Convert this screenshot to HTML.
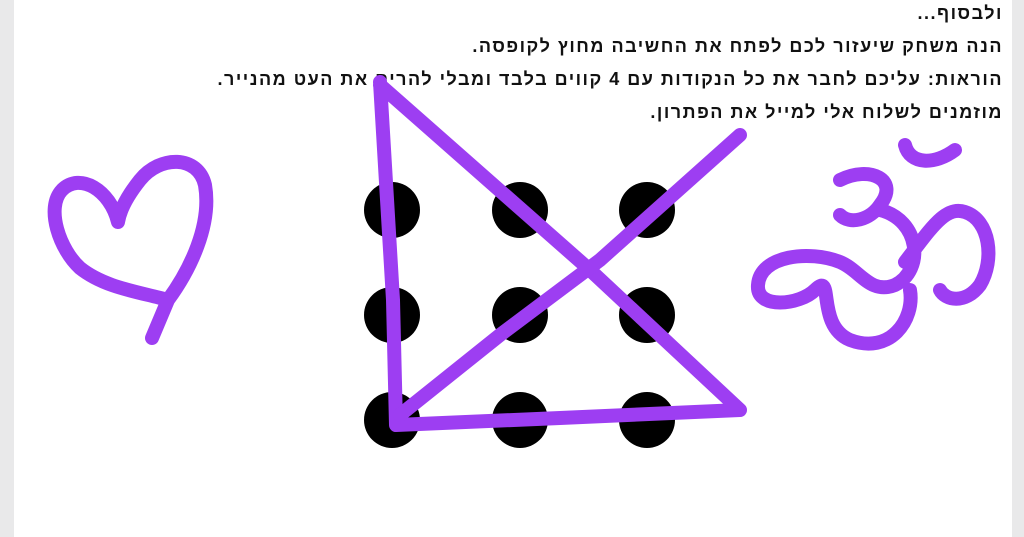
<!DOCTYPE html>
<html><head><meta charset="utf-8"><style>
html,body{margin:0;padding:0;width:1024px;height:537px;overflow:hidden;background:#fff}
.side{position:absolute;top:0;height:537px;background:#e9e9ea}
#doc{position:absolute;left:14px;top:0;width:998px;height:537px;background:#fff}
.line{position:absolute;right:21px;font-family:"Liberation Sans","Noto Sans CJK SC",sans-serif;font-weight:bold;font-size:18px;letter-spacing:1.5px;color:#111;direction:rtl;white-space:nowrap}
svg{position:absolute;left:0;top:0}
</style></head><body>
<div class="side" style="left:0;width:14px"></div>
<div class="side" style="left:1012px;width:12px"></div>
<div id="doc"></div>
<div class="line" style="top:3px">ולבסוף...</div>
<div class="line" style="top:36px">הנה משחק שיעזור לכם לפתח את החשיבה מחוץ לקופסה.</div>
<div class="line" style="top:69px">הוראות: עליכם לחבר את כל הנקודות עם 4 קווים בלבד ומבלי להרים את העט מהנייר.</div>
<div class="line" style="top:102px">מוזמנים לשלוח אלי למייל את הפתרון.</div>
<svg width="1024" height="537">
<g fill="#000">
<circle cx="392" cy="210" r="28"/><circle cx="520" cy="210" r="28"/><circle cx="647" cy="210" r="28"/>
<circle cx="392" cy="315" r="28"/><circle cx="520" cy="315" r="28"/><circle cx="647" cy="315" r="28"/>
<circle cx="392" cy="420" r="28"/><circle cx="520" cy="420" r="28"/><circle cx="647" cy="420" r="28"/>
</g>
<g fill="none" stroke="#9d3ef2" stroke-width="14" stroke-linecap="round" stroke-linejoin="round">
<path d="M380 82 L393 300 L396 425 L560 418 L740 410 L590 270 L380 85"/>
<path d="M740 135 L600 260 L500 335 L400 415"/>
<path d="M118 222 C110 190 80 172 62 190 C45 208 60 250 80 268 C105 288 140 292 168 300 C190 270 212 225 205 185 C198 155 160 155 140 180 C128 195 120 210 118 222 M168 300 L152 338"/>
<path d="M840 180 C870 165 900 180 880 205 C870 220 850 225 840 215 M880 210 C920 220 925 270 895 285 C870 295 860 270 840 262 C810 250 760 255 758 285 C756 310 800 305 815 290 C835 270 815 325 850 340 C890 355 915 320 910 290 M905 262 C930 230 945 205 965 212 C990 220 995 260 980 285 C965 305 945 300 940 290 M905 145 C910 165 935 165 955 150"/>
</g>
</svg>
</body></html>
